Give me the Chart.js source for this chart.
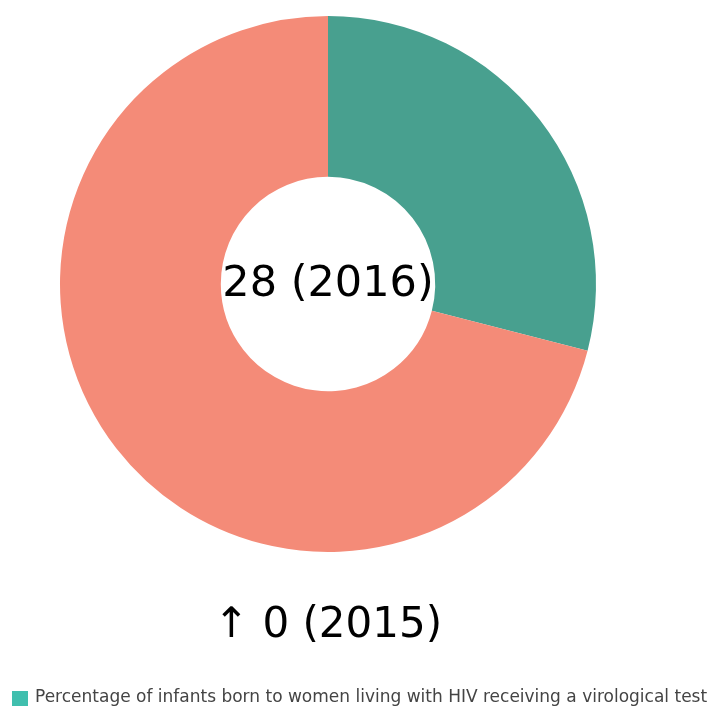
<!DOCTYPE html>
<html>
<head>
<meta charset="utf-8">
<script src="https://cdn.jsdelivr.net/npm/chart.js@4"></script>
<style>
  html, body { margin: 0; padding: 0; background: #fff; }
  #wrap { width: 711px; height: 708px; }
</style>
</head>
<body>
<div id="wrap"><canvas id="donutChart"></canvas></div>
<script>
var labels = ["Percentage of infants born to women living with HIV receiving a virological test", ""];
var values = [29, 71];
var sliceColors = ["#48a08f", "#f48b78"];
var legendColor = "#40bfae";
var centerText = "28 (2016)";
var changeText = "\u2191 0 (2015)";

// text in the hole, the change line and the one-item legend
var extraText = {
    id: "extraText",
    afterDraw: function (chart) {
        var ctx = chart.ctx;
        var meta = chart.getDatasetMeta(0).data[0];
        ctx.save();
        ctx.fillStyle = "#000";
        ctx.textAlign = "center";
        ctx.textBaseline = "middle";
        ctx.font = "43px 'DejaVu Sans'";
        ctx.fillText(centerText, meta.x, meta.y + 1);
        ctx.font = "42px 'DejaVu Sans'";
        ctx.fillText(changeText, meta.x, 626);

        ctx.fillStyle = legendColor;
        ctx.fillRect(12, 691, 16, 15);
        ctx.fillStyle = "#444";
        ctx.textAlign = "left";
        ctx.font = "17px 'DejaVu Sans'";
        ctx.fillText(labels[0], 35, 698);
        ctx.restore();
    }
};

document.addEventListener("DOMContentLoaded", function () {
    var ctx = document.getElementById("donutChart").getContext("2d");
    new Chart(ctx, {
        type: "doughnut",
        data: {
            labels: labels,
            datasets: [{
                data: values,
                backgroundColor: sliceColors,
                borderWidth: 0
            }]
        },
        options: {
            responsive: true,
            maintainAspectRatio: false,
            animation: false,
            cutout: "40%",
            layout: { padding: { left: 60, right: 115, top: 16, bottom: 156 } },
            plugins: {
                legend: { display: false },
                tooltip: { enabled: false }
            }
        },
        plugins: [extraText]
    });
});
</script>
</body>
</html>
